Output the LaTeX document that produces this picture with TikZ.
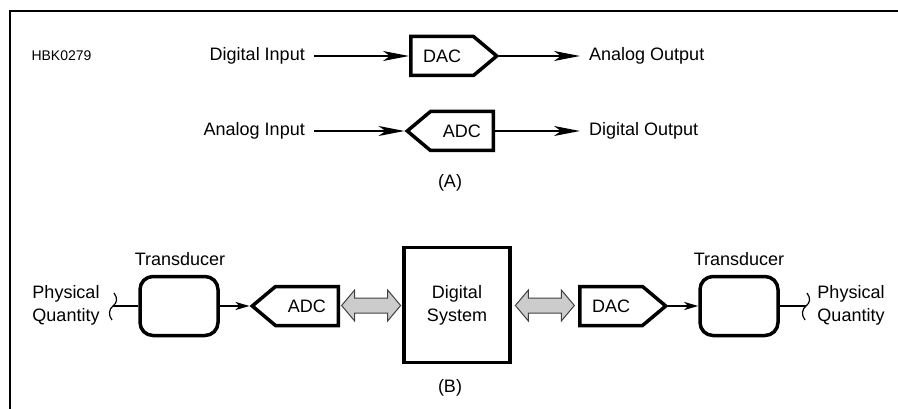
\documentclass[tikz,border=0pt]{standalone}
\usepackage{fontspec}
\setmainfont{Liberation Sans}
\usetikzlibrary{shapes.symbols,shapes.arrows,arrows.meta}

\newcommand{\klammer}[1]{
\draw[wellen] ([shift={(1,-13)}]#1) .. controls ([shift={(5,-8)}]#1) and ([shift={(4,-3)}]#1) .. (#1)
  .. controls ([shift={(-4,3)}]#1) and ([shift={(-5,9)}]#1) .. ([shift={(-1,14)}]#1);
}
\tikzset{
schrift/.style={font=\fontsize{18}{23}\selectfont},
txt/.style={schrift,inner xsep=9pt,inner ysep=0pt,align=center},
wandler/.style={signal,draw,line width=3.5pt,signal pointer angle=80,minimum width=86pt,minimum height=39pt,inner sep=0pt,schrift},
geber/.style={rectangle,draw,line width=3.5pt,rounded corners=13pt,minimum width=78pt,minimum height=59pt},
block/.style={rectangle,draw,line width=3.5pt,minimum width=106pt,minimum height=115pt,schrift,align=center},
pfeilA/.style={line width=1.5pt,-{Stealth[length=26pt,width=10pt,inset=7pt]}},
pfeilB/.style={line width=2pt,-{Stealth[length=14pt,width=8pt,inset=4pt]}},
bus/.style={double arrow,draw=black!75,fill=gray!40,line width=1pt,minimum height=59pt,minimum width=31pt,
  double arrow head extend=8pt,double arrow tip angle=100,inner xsep=0pt,inner ysep=7pt},
wellen/.style={line width=1.2pt},
leitung/.style={line width=2pt},
marco/.style={line width=2.5pt}
}

\begin{document}
\begin{tikzpicture}[x=1pt,y=-1pt]
    \useasboundingbox (0,0) rectangle (898,409);
    \draw[marco] (898,11) -- (10,11) -- (10,409);

    % (A)
    \node[font=\fontsize{14}{16}\selectfont,anchor=west] (hbk) at (28,56) {HBK0279};
    \node[txt,anchor=east] (din) at (314,56) {Digital Input};
    \node[wandler,signal to=east,anchor=west] (dacA) at (409,56) {DAC};
    \node[txt,anchor=west] (aout) at (580,56) {Analog Output};
    \node[txt,anchor=east] (ain) at (314,131) {Analog Input};
    \node[wandler,signal to=west,anchor=east] (adcA) at (495,131) {ADC};
    \node[txt,anchor=west] (dout) at (580,131) {Digital Output};
    \node[schrift] (labA) at (450,183) {(A)};

    \draw[pfeilA] (din) -- (dacA.west);
    \draw[pfeilA] (dacA.east) -- (aout);
    \draw[pfeilA] (ain) -- (adcA.west);
    \draw[pfeilA] (adcA.east) -- (dout);

    % (B)
    \node[txt] (pqL) at (66,305) {Physical\\Quantity};
    \coordinate (bL) at (113,306);
    \node[geber] (tdL) at (179,306) {};
    \node[schrift] (tL) at (180,259) {Transducer};
    \node[wandler,signal to=west,anchor=east] (adcB) at (340,306) {ADC};
    \node[block] (sys) at (457,305) {Digital\\System};
    \node[wandler,signal to=east,anchor=west] (dacB) at (578,306) {DAC};
    \node[geber] (tdR) at (739,306) {};
    \node[schrift] (tR) at (739,259) {Transducer};
    \coordinate (bR) at (806,306);
    \node[txt] (pqR) at (851,305) {Physical\\Quantity};
    \node[schrift] (labB) at (450,388) {(B)};

    \draw[leitung] (bL) -- (tdL);
    \draw[pfeilB] (tdL) -- (adcB.west);
    \path (adcB.east) -- node[bus]{} (sys.west);
    \path (sys.east) -- node[bus]{} (dacB.west);
    \draw[pfeilB] (dacB.east) -- (tdR);
    \draw[leitung] (tdR) -- (bR);
    \klammer{bL}
    \klammer{bR}
\end{tikzpicture}
\end{document}
